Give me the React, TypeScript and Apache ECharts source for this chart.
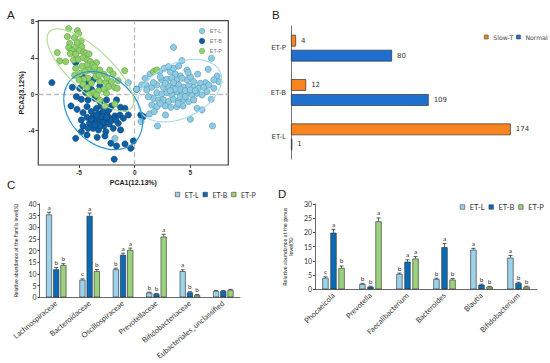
import React, { useEffect, useRef } from 'react';
import * as echarts from 'echarts';

// ---------- Panel A: PCA ----------
const pcaXTicks = [-5, 0, 5];
const pcaYTicks = [8, 4, 0, -4];
const pcaGroups = ['ET-L', 'ET-B', 'ET-P'];
const pcaL: number[][] = [
  [3.49, 5.16], [4.25, 3.7], [6.9, 3.96], [6.6, 2.75], [5.66, 2.23], [7.41, 2.01], [7.56, 1.39], [7.11, 1.58],
  [6.36, 1.28], [5.9, 1.21], [5.3, 1.39], [4.7, 1.58], [4.1, 2.01], [3.64, 2.23], [3.19, 2.49], [2.65, 2.86],
  [2.23, 2.49], [1.39, 2.23], [1.02, 1.03], [0.63, 1.03], [-0.57, 1.28], [0.18, 0.55], [1.08, 0.48], [1.54, 0.77],
  [1.99, 1.03], [2.44, 1.58], [2.89, 1.65], [3.34, 1.76], [3.8, 1.58], [4.25, 1.76], [2.59, 0.77], [3.04, 0.92],
  [3.49, 0.84], [3.95, 1.03], [4.4, 0.77], [4.85, 0.92], [5.3, 0.77], [5.75, 0.66], [6.2, 0.77], [6.66, 1.03],
  [7.11, 0.66], [1.99, 0.18], [2.44, 0.04], [2.89, 0.18], [3.34, -0.07], [3.8, 0.29], [4.25, 0.04], [4.7, 0.18],
  [5.15, -0.07], [5.6, 0.11], [6.05, -0.07], [6.87, -0.55], [1.69, -0.44], [1.23, -0.26], [2.14, -0.62], [2.59, -0.62],
  [3.04, -0.81], [3.49, -0.55], [3.95, -0.7], [4.4, -0.55], [4.85, -0.81], [5.3, -0.62], [1.54, -1.17], [1.99, -1.36],
  [2.74, -1.28], [3.25, -1.43], [3.8, -1.36], [4.34, -1.28], [5.6, -1.54], [6.05, -1.72], [1.33, -2.16], [1.75, -1.9],
  [2.77, -2.27], [0.57, -3.0], [2.05, -3.48], [5.0, -2.75], [6.99, -3.48], [-1.78, -4.84], [0.93, 1.76], [1.69, 1.28],
  [3.49, 2.86], [3.95, 3.11], [4.7, 2.67], [3.04, 3.04], [4.1, 0.55], [4.55, 0.4], [3.64, 0.55], [3.19, 0.4],
  [5.0, 0.48], [5.45, 0.4], [4.1, -0.26], [4.55, -0.26], [3.49, 1.28], [2.74, 1.21], [2.3, 1.9], [5.0, 1.9],
  [3.9, -1.0], [2.3, -1.0], [6.5, 0.3], [4.8, 2.4]
];
const pcaB: number[][] = [
  [-7.44, 1.28], [-5.3, 3.48], [-5.6, 0.77], [-4.94, 0.66], [-4.7, 1.94], [-4.22, 1.28], [-3.73, 1.58], [-3.13, 0.92],
  [-4.4, 0.18], [-3.89, 0.55], [-5.24, -0.26], [-4.79, -0.55], [-4.19, -0.62], [-3.58, -0.44], [-3.13, -0.81], [-2.53, -0.62],
  [-2.08, -1.28], [-1.27, -1.43], [-0.87, -1.54], [-1.63, -0.62], [-5.72, -1.28], [-5.18, -1.65], [-4.64, -2.01], [-4.28, -1.36],
  [-3.89, -1.9], [-3.43, -1.54], [-3.19, -2.16], [-2.83, -1.9], [-2.47, -2.27], [-3.73, -2.45], [-4.28, -2.53], [-4.79, -2.82],
  [-4.07, -3.19], [-3.49, -3.0], [-3.13, -2.75], [-2.68, -2.82], [-2.23, -2.64], [-1.78, -2.38], [-1.33, -2.27], [-2.77, -3.48],
  [-2.29, -3.26], [-1.93, -3.74], [-1.48, -3.19], [-1.27, -3.92], [-3.25, -3.92], [-2.59, -4.1], [-3.73, -3.74], [-4.64, -3.48],
  [-4.28, -4.47], [-4.79, -4.1], [-5.3, -4.84], [-3.37, -4.73], [-2.68, -4.58], [-2.14, -5.38], [-1.63, -5.68], [-0.87, -5.46],
  [-0.12, -5.13], [-0.36, -5.93], [-1.84, -7.14], [0.54, -2.27], [0.78, -2.45], [0.18, 0.55], [-0.57, -2.27], [-1.02, -2.64],
  [-2.98, -2.45], [-2.53, -2.53], [-3.43, -2.27], [-2.89, -3.11], [-2.08, -2.89], [-3.89, -2.75], [-1.69, -2.82], [-3.13, -3.48],
  [-3.58, -3.37], [-4.19, -3.74], [-2.3, -1.7], [-3.0, -1.3]
];
const pcaP: number[][] = [
  [-5.93, 7.22], [-5.15, 7.0], [-5.03, 6.67], [-6.05, 6.34], [-5.42, 6.23], [-4.82, 5.82], [-5.18, 5.68], [-5.84, 5.6],
  [-5.93, 5.13], [-5.36, 5.13], [-4.76, 5.24], [-5.63, 4.8], [-5.0, 4.8], [-4.58, 4.65], [-6.96, 4.58], [-5.78, 4.47],
  [-5.3, 4.4], [-4.4, 4.5], [-4.1, 4.43], [-6.75, 3.66], [-6.2, 3.59], [-5.48, 3.77], [-5.06, 3.85], [-4.64, 4.03],
  [-4.28, 3.77], [-3.98, 3.59], [-3.43, 3.48], [-3.8, 3.22], [-4.28, 3.22], [-4.73, 3.08], [-5.3, 2.86], [-4.16, 2.67],
  [-3.67, 2.56], [-3.13, 2.67], [-2.23, 2.67], [-2.77, 2.2], [-1.93, 2.23], [-0.9, 2.6], [-3.49, 1.94], [-4.19, 1.76],
  [-4.58, 1.65], [-5.0, 1.58], [-4.64, 1.1], [-3.89, 1.21], [-3.13, 1.43], [-2.59, 1.32], [-2.08, 1.39], [-1.48, 1.5],
  [-2.35, 0.84], [-1.84, 0.77], [-1.57, 0.66], [-2.77, 0.55], [-3.25, 0.4], [-3.73, 0.18], [-4.1, 0.0], [-4.28, 0.73],
  [-2.53, 0.11], [-3.43, -0.07], [-3.13, -0.62], [-2.68, -1.28], [-1.78, -1.06], [1.69, 2.49], [1.99, 2.67],
  [-4.9, 2.3], [-3.6, 3.0], [-4.45, 2.5], [-3.2, 2.1], [-2.5, 1.8], [-5.4, 2.1]
];
const ellipseCenter = [[4.04, 0.4], [-2.83, -1.79], [-3.98, 2.67]];
const ellipseAxisA = [[3.61, 2.11], [2.85, -3.45], [3.67, -4.21]];
const ellipseAxisB = [[1.07, -2.71], [2.1, 2.55], [1.28, 1.65]];

// ---------- Panel B ----------
const groupCats = ['ET-L', 'ET-B', 'ET-P'];
const slowT = [174, 12, 4];
const normal = [1, 109, 80];

// ---------- Panel C ----------
const familyCats = ['Lachnospiraceae', 'Bacteroidaceae', 'Oscillospiraceae', 'Prevotellaceae', 'Bifidobacteriaceae', 'Eubacteriales_unclassified'];
const famL = [35.5, 7.5, 12.0, 2.0, 11.2, 2.7];
const famB = [12.0, 34.9, 18.2, 1.4, 2.1, 2.7];
const famP = [13.8, 11.2, 20.3, 26.0, 1.0, 3.2];
const famErrL = [1.0, 0.4, 0.5, 0.2, 0.6, 0.2];
const famErrB = [0.8, 1.2, 0.7, 0.2, 0.3, 0.2];
const famErrP = [0.6, 0.7, 0.8, 1.0, 0.2, 0.2];
const famSigL = ['a', 'c', 'b', 'b', 'a', ''];
const famSigB = ['b', 'a', 'a', 'b', 'b', ''];
const famSigP = ['b', 'b', 'a', 'a', 'b', ''];

// ---------- Panel D ----------
const genusCats = ['Phocaeicola', 'Prevotella', 'Faecalibacterium', 'Bacteroides', 'Blautia', 'Bifidobacterium'];
const genL = [4.0, 1.8, 5.4, 3.6, 13.9, 11.1];
const genB = [19.9, 0.9, 9.7, 14.8, 1.6, 2.2];
const genP = [7.5, 23.9, 10.8, 3.4, 0.9, 0.9];
const genErrL = [0.4, 0.3, 0.3, 0.3, 0.5, 0.8];
const genErrB = [1.2, 0.2, 0.7, 1.3, 0.2, 0.3];
const genErrP = [0.7, 1.2, 0.7, 0.4, 0.1, 0.2];
const genSigL = ['c', 'b', 'b', 'b', 'a', 'a'];
const genSigB = ['a', 'b', 'a', 'a', 'b', 'b'];
const genSigP = ['b', 'a', 'a', 'b', 'b', 'b'];

const scatterColors = ['#8ccbe6', '#0d5fa6', '#8fd16b'];
const scatterBorders = ['#5a92aa', '#0b416f', '#5f9a46'];
const ellipseColors = ['#a8dcef', '#2b93d1', '#b2df97'];
const barFill = ['#9dd3ea', '#0b6cb4', '#9bd27c'];

function errSeries(prefix: string, k: number, vals: number[], errs: number[], sigs: string[], axisIdx: number, bw: number, gapPx: number) {
  return {
    type: 'custom',
    name: prefix + 'err' + k,
    xAxisIndex: axisIdx,
    yAxisIndex: axisIdx,
    z: 5,
    data: vals.map((v, i) => [i, v, errs[i]]),
    renderItem: (params: any, api: any) => {
      const i = api.value(0);
      const v = api.value(1);
      const e = api.value(2);
      const p0 = api.coord([i, v]);
      const p1 = api.coord([i, v + e]);
      const total = 3 * bw + 2 * gapPx;
      const x = p0[0] - total / 2 + k * (bw + gapPx) + bw / 2;
      const children: any[] = [
        { type: 'line', shape: { x1: x, y1: p0[1], x2: x, y2: p1[1] }, style: { stroke: '#333', lineWidth: 0.8 } },
        { type: 'line', shape: { x1: x - 2, y1: p1[1], x2: x + 2, y2: p1[1] }, style: { stroke: '#333', lineWidth: 0.8 } },
      ];
      const s = sigs[params.dataIndex];
      if (s) {
        children.push({
          type: 'text', x, y: p1[1] - 1.5,
          style: { text: s, fontSize: 6.5, fill: '#333', align: 'center', verticalAlign: 'bottom', fontFamily: 'Lato' },
        });
      }
      return { type: 'group', children };
    },
  };
}

function barSeries(prefix: string, k: number, vals: number[], axisIdx: number, bw: number, gapPct: string) {
  return {
    type: 'bar',
    name: prefix + '|' + pcaGroups[k],
    xAxisIndex: axisIdx,
    yAxisIndex: axisIdx,
    barWidth: bw,
    barGap: gapPct,
    data: vals,
    itemStyle: { color: barFill[k], borderColor: '#2a2a2a', borderWidth: 0.6 },
  };
}

export default function App() {
  const ref = useRef<HTMLDivElement>(null);
  useEffect(() => {
    if (!ref.current) return;
    const chart = echarts.init(ref.current, undefined, { renderer: 'svg' });

    const scatterData = [pcaL, pcaB, pcaP];
    const scatterSeries = [1, 0, 2].map((k) => ({
      type: 'scatter',
      name: pcaGroups[k],
      xAxisIndex: 0,
      yAxisIndex: 0,
      symbolSize: 6.2,
      data: scatterData[k],
      itemStyle: { color: scatterColors[k], borderColor: scatterBorders[k], borderWidth: 0.6, opacity: 1 },
      z: 3,
      ...(k === 1
        ? {
            markLine: {
              silent: true,
              symbol: 'none',
              label: { show: false },
              lineStyle: { type: 'dashed', color: '#bdbdbd', width: 1.3 },
              data: [{ xAxis: 0 }, { yAxis: 0 }],
              z: 1,
            },
          }
        : {}),
    }));

    const ellipseSeries = [0, 1, 2].map((k) => ({
      type: 'custom',
      name: 'ellipse-' + pcaGroups[k],
      xAxisIndex: 0,
      yAxisIndex: 0,
      z: 4,
      data: [ellipseCenter[k]],
      renderItem: (params: any, api: any) => {
        const c = ellipseCenter[k];
        const a = ellipseAxisA[k];
        const b = ellipseAxisB[k];
        const pts: number[][] = [];
        for (let j = 0; j <= 90; j++) {
          const t = (j / 90) * Math.PI * 2;
          pts.push(api.coord([c[0] + a[0] * Math.cos(t) + b[0] * Math.sin(t), c[1] + a[1] * Math.cos(t) + b[1] * Math.sin(t)]));
        }
        return { type: 'polyline', shape: { points: pts }, style: { stroke: ellipseColors[k], fill: 'none', lineWidth: 1.2 } };
      },
    }));

    const bwC = 6, gapC = 1.2;
    const bwD = 6.2, gapD = 1.86;

    const option: any = {
      animation: false,
      textStyle: { fontFamily: 'Liberation Sans' },
      graphic: [
        { type: 'text', left: 7, top: 9, style: { text: 'A', fontSize: 11.5, fill: '#222', fontFamily: 'Liberation Sans' } },
        { type: 'text', left: 272, top: 9, style: { text: 'B', fontSize: 11.5, fill: '#222', fontFamily: 'Liberation Sans' } },
        { type: 'text', left: 7, top: 179, style: { text: 'C', fontSize: 11.5, fill: '#222', fontFamily: 'Liberation Sans' } },
        { type: 'text', left: 278, top: 188, style: { text: 'D', fontSize: 11.5, fill: '#222', fontFamily: 'Liberation Sans' } },
      ],
      legend: [
        {
          data: pcaGroups,
          orient: 'vertical',
          left: 199,
          top: 28,
          padding: 0,
          itemWidth: 5.5,
          itemHeight: 5.5,
          itemGap: 4,
          itemTextGap: 4.5,
          icon: 'circle',
          itemStyle: { borderWidth: 0.5 },
          textStyle: { fontSize: 5.5, color: '#777', fontFamily: 'Liberation Sans' },
        },
        {
          data: ['Slow-T', 'Normal'],
          left: 484,
          top: 34,
          width: 70,
          padding: 0,
          itemWidth: 4,
          itemHeight: 4,
          itemGap: 3,
          itemTextGap: 1.5,
          icon: 'rect',
          itemStyle: { borderWidth: 0.5 },
          textStyle: { fontSize: 6.2, color: '#444', fontFamily: 'DejaVu Sans' },
        },
        {
          data: pcaGroups.map((g) => 'C|' + g),
          formatter: (n: string) => n.split('|')[1],
          left: 175,
          top: 191,
          padding: 0,
          itemWidth: 4.5,
          itemHeight: 4.5,
          itemGap: 4,
          itemTextGap: 2,
          icon: 'rect',
          itemStyle: { borderWidth: 0.5 },
          textStyle: { fontSize: 7, color: '#333', fontFamily: 'Lato' },
        },
        {
          data: pcaGroups.map((g) => 'D|' + g),
          formatter: (n: string) => n.split('|')[1],
          left: 460,
          top: 203,
          padding: 0,
          itemWidth: 4.5,
          itemHeight: 4.5,
          itemGap: 4,
          itemTextGap: 2,
          icon: 'rect',
          itemStyle: { borderWidth: 0.5 },
          textStyle: { fontSize: 7.5, color: '#333', fontFamily: 'Lato' },
        },
      ],
      grid: [
        { left: 38.3, top: 20.7, width: 190, height: 144.3, show: true, borderColor: '#444', borderWidth: 1.2, backgroundColor: 'transparent' },
        { left: 291, top: 26, width: 252.6, height: 133 },
        { left: 39.5, top: 204, width: 200.5, height: 93.3 },
        { left: 315, top: 204, width: 222, height: 85.3 },
      ],
      xAxis: [
        {
          type: 'value', gridIndex: 0, min: -8.66, max: 8.41,
          axisLine: { show: false, onZero: false },
          axisTick: { show: true, length: 3, customValues: pcaXTicks, lineStyle: { color: '#444' } },
          axisLabel: { customValues: pcaXTicks, fontSize: 6.5, fontWeight: 'bold', color: '#333', margin: 4 },
          splitLine: { show: false },
          name: 'PCA1(12.13%)', nameLocation: 'middle', nameGap: 14,
          nameTextStyle: { fontSize: 7, fontWeight: 'bold', color: '#222' },
        },
        { type: 'value', gridIndex: 1, min: 0, max: 200, show: false },
        {
          type: 'category', gridIndex: 2, data: familyCats,
          axisLine: { lineStyle: { color: '#444', width: 0.8 } },
          axisTick: { length: 2, lineStyle: { color: '#444' } },
          axisLabel: { rotate: 40, interval: 0, fontSize: 7.5, color: '#333', margin: 5, fontFamily: 'Lato' },
        },
        {
          type: 'category', gridIndex: 3, data: genusCats,
          axisLine: { lineStyle: { color: '#444', width: 0.8 } },
          axisTick: { length: 2, lineStyle: { color: '#444' } },
          axisLabel: { rotate: 45, interval: 0, fontSize: 7.5, color: '#333', margin: 5, fontFamily: 'Lato' },
        },
      ],
      yAxis: [
        {
          type: 'value', gridIndex: 0, min: -7.77, max: 8.09,
          axisLine: { show: false, onZero: false },
          axisTick: { show: true, length: 3, customValues: pcaYTicks, lineStyle: { color: '#444' } },
          axisLabel: { customValues: pcaYTicks, fontSize: 6.5, fontWeight: 'bold', color: '#333', margin: 4 },
          splitLine: { show: false },
          name: 'PCA2(3.12%)', nameLocation: 'middle', nameGap: 13, nameRotate: 90,
          nameTextStyle: { fontSize: 7, fontWeight: 'bold', color: '#222' },
        },
        {
          type: 'category', gridIndex: 1, data: groupCats,
          axisLine: { lineStyle: { color: '#777', width: 1 } },
          axisTick: { show: false },
          axisLabel: { fontSize: 7, color: '#333', margin: 5, fontFamily: 'DejaVu Sans' },
        },
        {
          type: 'value', gridIndex: 2, min: 0, max: 40, interval: 5,
          axisLine: { show: true, lineStyle: { color: '#444', width: 0.8 } },
          axisTick: { show: true, length: 2, lineStyle: { color: '#444' } },
          axisLabel: { fontSize: 7, color: '#333', margin: 3, fontFamily: 'Lato' },
          splitLine: { show: false },
          name: 'Relative abundance at the Family level(%)', nameLocation: 'middle', nameGap: 21, nameRotate: 90,
          nameTextStyle: { fontSize: 5.2, color: '#222', fontFamily: 'Lato' },
        },
        {
          type: 'value', gridIndex: 3, min: 0, max: 30, interval: 5,
          axisLine: { show: true, lineStyle: { color: '#444', width: 0.8 } },
          axisTick: { show: true, length: 2, lineStyle: { color: '#444' } },
          axisLabel: { fontSize: 7, color: '#333', margin: 3, fontFamily: 'Lato' },
          splitLine: { show: false },
          name: 'Relative abundance at the genus\nlevel(%)', nameLocation: 'middle', nameGap: 21, nameRotate: 90,
          nameTextStyle: { fontSize: 5.5, color: '#222', fontFamily: 'Lato', lineHeight: 6 },
        },
      ],
      series: [
        ...scatterSeries,
        ...ellipseSeries,
        {
          type: 'bar', name: 'Slow-T', xAxisIndex: 1, yAxisIndex: 1, barWidth: 11.7, barGap: '28%',
          data: slowT,
          itemStyle: { color: '#f7841f', borderColor: '#333', borderWidth: 0.7 },
          label: { show: true, position: 'right', distance: 5, fontSize: 7, color: '#333', fontFamily: 'DejaVu Sans' },
        },
        {
          type: 'bar', name: 'Normal', xAxisIndex: 1, yAxisIndex: 1, barWidth: 11.7, barGap: '28%',
          data: normal,
          itemStyle: { color: '#1f6fcf', borderColor: '#333', borderWidth: 0.7 },
          label: { show: true, position: 'right', distance: 5, fontSize: 7, color: '#333', fontFamily: 'DejaVu Sans' },
        },
        barSeries('C', 0, famL, 2, bwC, '20%'),
        barSeries('C', 1, famB, 2, bwC, '20%'),
        barSeries('C', 2, famP, 2, bwC, '20%'),
        errSeries('C', 0, famL, famErrL, famSigL, 2, bwC, gapC),
        errSeries('C', 1, famB, famErrB, famSigB, 2, bwC, gapC),
        errSeries('C', 2, famP, famErrP, famSigP, 2, bwC, gapC),
        barSeries('D', 0, genL, 3, bwD, '30%'),
        barSeries('D', 1, genB, 3, bwD, '30%'),
        barSeries('D', 2, genP, 3, bwD, '30%'),
        errSeries('D', 0, genL, genErrL, genSigL, 3, bwD, gapD),
        errSeries('D', 1, genB, genErrB, genSigB, 3, bwD, gapD),
        errSeries('D', 2, genP, genErrP, genSigP, 3, bwD, gapD),
      ],
    };
    chart.setOption(option);
    return () => chart.dispose();
  }, []);
  return <div ref={ref} style={{ position: 'absolute', left: 0, top: 0, width: 550, height: 363, background: '#fff' }} />;
}
